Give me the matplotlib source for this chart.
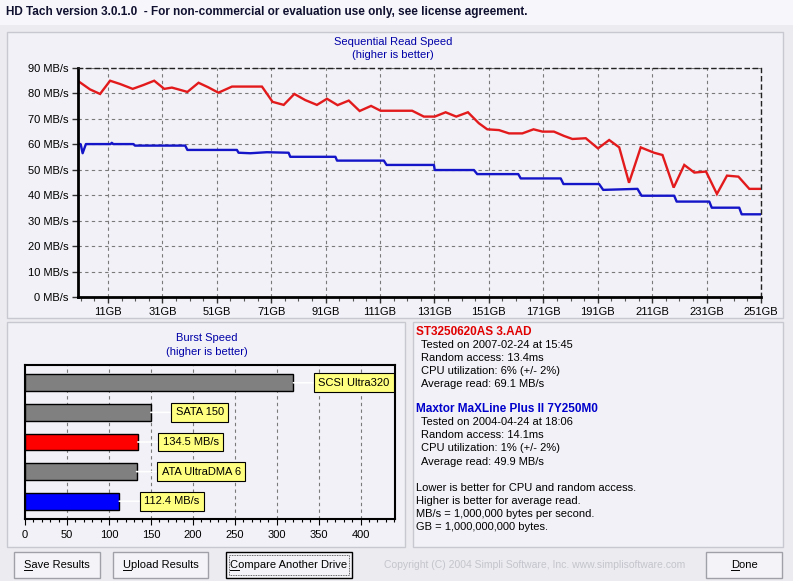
import matplotlib
matplotlib.use('Agg')
import matplotlib.pyplot as plt
from matplotlib.patches import Rectangle
from matplotlib.lines import Line2D
from matplotlib.ticker import MultipleLocator, FixedLocator

plt.rcParams['font.family'] = ['Liberation Sans', 'DejaVu Sans']

# 顺序读取速度 (GB, MB/s)
red_gb = [0, 4.4, 8.1, 11.8, 15.5, 20.1, 24.0, 28.0, 31.7, 34.5,
          36.9, 40.2, 44.3, 47.9, 51.6, 56.6, 67.6, 71.5, 75.6, 79.5,
          83.5, 87.8, 91.5, 95.4, 99.5, 103.5, 107.7, 111.2, 122.8, 127.1,
          131.1, 135.1, 139.0, 143.3, 147.3, 150.4, 154.7, 158.4, 163.3, 167.4,
          170.7, 174.9, 178.6, 181.7, 186.6, 191.1, 195.2, 198.9, 202.5, 206.8,
          211.7, 214.8, 218.9, 222.8, 226.5, 230.8, 234.8, 238.5, 242.7, 246.7,
          250.8]
red_mbs = [84.9, 81.6, 79.8, 85.0, 83.7, 81.8, 83.3, 85.0, 81.8, 82.3,
           81.6, 80.6, 84.2, 82.4, 80.3, 82.7, 82.7, 76.7, 75.5, 79.8,
           77.4, 75.5, 77.9, 75.4, 77.2, 73.1, 75.1, 73.2, 73.2, 70.9,
           70.9, 72.6, 70.9, 72.6, 68.3, 65.9, 65.6, 64.3, 64.3, 65.9,
           65.0, 65.0, 63.3, 62.1, 62.4, 58.4, 61.7, 58.8, 44.9, 58.8,
           56.7, 55.8, 43.0, 51.9, 48.9, 49.3, 40.5, 47.7, 47.3, 42.5,
           42.5]

blue_gb = [0, 1.0, 1.7, 2.9, 12.0, 12.4, 13.0, 20.4, 20.9, 39.4,
           40.2, 58.4, 59.0, 63.3, 69.4, 77.4, 78.0, 94.6, 95.2, 112.4,
           113.4, 130.8, 131.1, 145.5, 146.7, 161.8, 162.7, 177.4, 178.4, 191.5,
           193.0, 205.6, 207.1, 219.1, 220.0, 232.0, 232.9, 243.0, 243.9, 251.4]
blue_mbs = [60.4, 60.0, 56.5, 60.1, 60.1, 60.6, 60.1, 60.1, 59.5, 59.5,
            57.8, 57.8, 56.7, 56.5, 56.9, 56.7, 55.1, 55.1, 53.6, 53.6,
            51.9, 51.9, 49.9, 49.9, 48.3, 48.3, 46.6, 46.6, 44.4, 44.4,
            42.1, 42.5, 39.8, 39.8, 37.5, 37.5, 35.1, 35.1, 32.5, 32.5]

gb_ticks = [11, 31, 51, 71, 91, 111, 131, 151, 171, 191, 211, 231, 251]
mbs_ticks = [0, 10, 20, 30, 40, 50, 60, 70, 80, 90]

# 突发速度
burst_names = ['SCSI Ultra320', 'SATA 150', '134.5 MB/s', 'ATA UltraDMA 6', '112.4 MB/s']
burst_vals = [320, 150, 134.5, 133, 112.4]
burst_colors = ['#808080', '#808080', '#FF0000', '#808080', '#0000FF']
burst_ticks = [0, 50, 100, 150, 200, 250, 300, 350, 400]

W, H = 793, 581
BG = '#EBEBF0'
PANEL = '#F1F1F7'
GRID = '#7A7A7A'


def box(x0, y0, x1, y1):
    # 像素坐标 -> figure坐标
    return [x0 / W, 1 - y1 / H, (x1 - x0) / W, (y1 - y0) / H]


def rect(x0, y0, x1, y1, **kw):
    b = box(x0, y0, x1, y1)
    kw.setdefault('zorder', -5)
    fig.patches.append(Rectangle((b[0], b[1]), b[2], b[3], transform=fig.transFigure, **kw))


fig = plt.figure(figsize=(W / 100, H / 100), dpi=100, facecolor=BG)

# 顶部标题栏
rect(0, 0, W, 25, facecolor='#F7F7FB', edgecolor='none')
fig.text(6 / W, 1 - 12 / H, 'HD Tach version 3.0.1.0  - For non-commercial or evaluation use only, see license agreement.',
         fontsize=8.5, fontweight='bold', color='#101030', va='center', ha='left')

# 面板
for (x0, y0, x1, y1) in [(7, 32, 783, 318), (7, 322, 405, 547), (413, 322, 783, 547)]:
    rect(x0, y0, x1, y1, facecolor=PANEL, edgecolor='#C8C8D0', lw=1)

# ---- 顺序读取速度 ----
ax = fig.add_axes(box(78, 68, 761, 297))
ax.set_facecolor(PANEL)
ax.plot(red_gb, red_mbs, color='#E31A1C', lw=1.7, solid_joinstyle='miter')
ax.plot(blue_gb, blue_mbs, color='#1414C8', lw=1.7)
ax.set_xlim(0, 251)
ax.set_ylim(0, 90)
ax.xaxis.set_major_locator(FixedLocator(gb_ticks))
ax.set_xticklabels([f'{g}GB' for g in gb_ticks])
ax.xaxis.set_minor_locator(FixedLocator([g for g in range(1, 251, 5) if (g - 11) % 20 != 0]))
ax.set_yticks(mbs_ticks)
ax.set_yticklabels([f'{m} MB/s' for m in mbs_ticks])
ax.tick_params(axis='both', which='major', direction='out', length=4, width=1,
               labelsize=8, color='#333333', pad=3)
ax.tick_params(axis='x', which='minor', direction='out', length=3, width=0.8, color='#555555')
ax.grid(True, which='major', color=GRID, linestyle=(0, (3, 3)), lw=0.8)
for s in ['left', 'bottom']:
    ax.spines[s].set_linewidth(2)
    ax.spines[s].set_color('black')
for s in ['top', 'right']:
    ax.spines[s].set_linestyle((0, (3, 3)))
    ax.spines[s].set_linewidth(1)
    ax.spines[s].set_color('#222222')

fig.text(393 / W, 1 - 42 / H, 'Sequential Read Speed', ha='center', va='center',
         fontsize=8, color='#0000A8')
fig.text(393 / W, 1 - 55 / H, '(higher is better)', ha='center', va='center',
         fontsize=8, color='#0000A8')

# ---- 突发速度 ----
bx = fig.add_axes(box(25, 365, 395, 519))
bx.set_facecolor(PANEL)
ypos = list(range(len(burst_vals)))
bx.barh(ypos, burst_vals, height=0.56, color=burst_colors, edgecolor='black', lw=1, zorder=3)
for y, v, name in zip(ypos, burst_vals, burst_names):
    bx.annotate(name, xy=(v, y), xytext=(18, 0), textcoords='offset points',
                ha='left', va='center', fontsize=8, zorder=4,
                bbox=dict(boxstyle='square,pad=0.4', fc='#FFFF80', ec='black', lw=0.8),
                arrowprops=dict(arrowstyle='-', color='white', lw=1.2,
                                shrinkA=0, shrinkB=0))
bx.set_xlim(0, 441)
bx.set_ylim(4.6, -0.6)
bx.set_yticks([])
bx.set_xticks(burst_ticks)
bx.xaxis.set_minor_locator(MultipleLocator(10))
bx.tick_params(axis='x', which='major', direction='out', length=4, labelsize=8, pad=4)
bx.tick_params(axis='x', which='minor', direction='out', length=2.5, width=0.8)
bx.grid(True, axis='x', which='major', color=GRID, linestyle=(0, (3, 3)), lw=0.8)
bx.set_axisbelow(True)
for s in bx.spines.values():
    s.set_linewidth(1.5)
    s.set_color('black')

fig.text(207 / W, 1 - 338 / H, 'Burst Speed', ha='center', va='center', fontsize=8, color='#0000A8')
fig.text(207 / W, 1 - 352 / H, '(higher is better)', ha='center', va='center', fontsize=8, color='#0000A8')

# ---- 信息面板 ----
info = [
    (416, 332, 'ST3250620AS 3.AAD', '#E00000', 'bold'),
    (421, 345, 'Tested on 2007-02-24 at 15:45', 'black', 'normal'),
    (421, 358, 'Random access: 13.4ms', 'black', 'normal'),
    (421, 371, 'CPU utilization: 6% (+/- 2%)', 'black', 'normal'),
    (421, 384, 'Average read: 69.1 MB/s', 'black', 'normal'),
    (416, 409, 'Maxtor MaXLine Plus II 7Y250M0', '#0000CC', 'bold'),
    (421, 422, 'Tested on 2004-04-24 at 18:06', 'black', 'normal'),
    (421, 435, 'Random access: 14.1ms', 'black', 'normal'),
    (421, 448, 'CPU utilization: 1% (+/- 2%)', 'black', 'normal'),
    (421, 462, 'Average read: 49.9 MB/s', 'black', 'normal'),
    (416, 488, 'Lower is better for CPU and random access.', 'black', 'normal'),
    (416, 501, 'Higher is better for average read.', 'black', 'normal'),
    (416, 514, 'MB/s = 1,000,000 bytes per second.', 'black', 'normal'),
    (416, 527, 'GB = 1,000,000,000 bytes.', 'black', 'normal'),
]
for x, y, t, c, w in info:
    fig.text(x / W, 1 - y / H, t, ha='left', va='center', fontsize=8.5 if w == 'bold' else 8,
             color=c, fontweight=w)

# ---- 按钮 ----
buttons = [(14, 100, 'Save Results', '#A0A0A8'), (113, 208, 'Upload Results', '#A0A0A8'),
           (226, 352, 'Compare Another Drive', 'black'), (706, 782, 'Done', '#A0A0A8')]
renderer = fig.canvas.get_renderer()
for x0, x1, t, ec in buttons:
    rect(x0, 552, x1, 578, facecolor='#F4F4F8', edgecolor=ec, lw=1)
    txt = fig.text((x0 + x1) / 2 / W, 1 - 565 / H, t, ha='center', va='center', fontsize=8)
    # 首字母下划线
    ext = txt.get_window_extent(renderer)
    tmp = fig.text(0, 0, t[0], fontsize=8)
    cw = tmp.get_window_extent(renderer).width
    tmp.remove()
    fig.add_artist(Line2D([ext.x0 / W, (ext.x0 + cw) / W], [(ext.y0 + 0.5) / H] * 2,
                          transform=fig.transFigure, color='black', lw=0.7))
# 焦点虚线框
rect(229, 555, 349, 575, facecolor='none', edgecolor='#333333', lw=0.6,
     linestyle=(0, (1, 1)), zorder=1)
fig.text(535 / W, 1 - 565 / H, 'Copyright (C) 2004 Simpli Software, Inc. www.simplisoftware.com',
         ha='center', va='center', fontsize=7.5, color='#C4C4CC')

fig.savefig('out.png', dpi=100, facecolor=BG)
